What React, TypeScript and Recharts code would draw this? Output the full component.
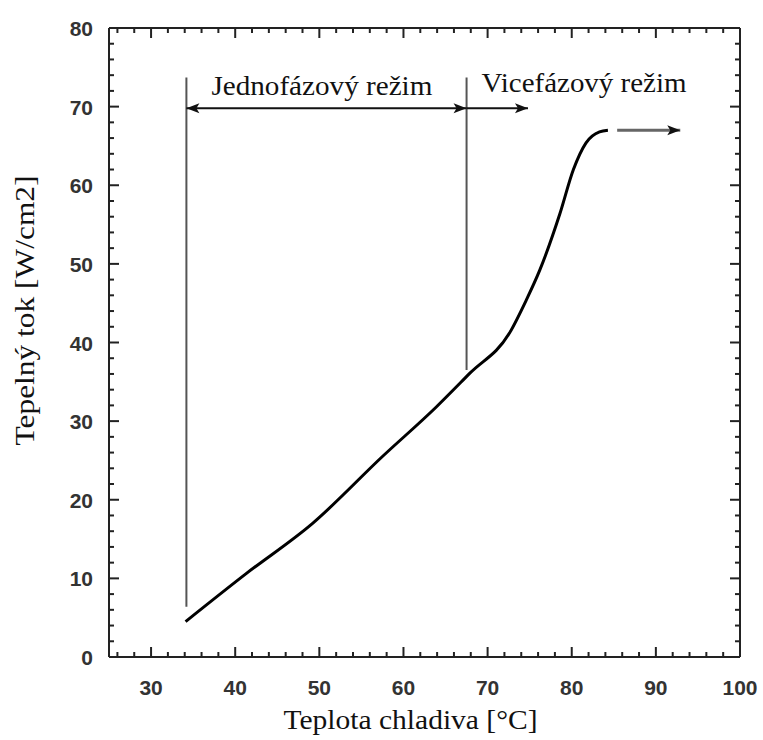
import { ComposedChart, Line, Scatter, XAxis, YAxis, ReferenceLine, Label } from "recharts"

// measured curve: coolant temperature [°C] vs heat flux [W/cm2]
const temperature = [34.1, 41.3, 49.2, 57.5, 63.9, 67.9, 72.6, 74.6, 76.2, 78.6, 80.2, 81.7, 83.3, 84.3]
const heatFlux = [4.5, 10.6, 17.0, 25.5, 31.8, 36.1, 41.2, 45.4, 49.2, 56.4, 62.0, 65.4, 66.8, 67.0]

const xDomain = [25, 100]
const yDomain = [0, 80]
const xMajorTicks = [30, 40, 50, 60, 70, 80, 90, 100]
const yMajorTicks = [0, 10, 20, 30, 40, 50, 60, 70, 80]
const xTicks = Array.from({ length: 38 }, (_, i) => 26 + i * 2)
const yTicks = Array.from({ length: 41 }, (_, i) => i * 2)

// regime annotations
const boundaryX = [34.2, 67.5]
const boundaryBottom = [6.4, 36.5]
const boundaryTop = 73.7
const regimeArrowY = 69.8
const multiPhaseArrowEnd = 74.8
const plateauArrowX = [85.4, 92.9]
const plateauArrowY = 67

const singleLabel = "Jednofázový režim"
const multiLabel = "Vicefázový režim"

const data = temperature.map((t, i) => ({ t, q: heatFlux[i] }))
const topTickPoints = xTicks.map((v) => ({ t: v, q: yDomain[1], len: isMajorTick(v, xMajorTicks) ? 10 : 5 }))
const rightTickPoints = yTicks.map((v) => ({ t: xDomain[1], q: v, len: isMajorTick(v, yMajorTicks) ? 10 : 5 }))

function isMajorTick(v: number, majors: number[]) {
  return majors.includes(Math.round(v))
}

const serif = "'Liberation Serif', 'Times New Roman', serif"
const sans = "'Liberation Sans', Arial, Helvetica, sans-serif"

const tickLen = (v: number, majors: number[]) => (isMajorTick(v, majors) ? 10 : 5)

const BottomTick = ({ x, y, payload }: any) => {
  const len = tickLen(payload.value, xMajorTicks)
  return (
    <g>
      <line x1={x} y1={y} x2={x} y2={y - len} stroke="#222" strokeWidth={2} />
      {len === 10 && (
        <text x={x} y={y + 38} textAnchor="middle" fontFamily={sans} fontWeight="bold" fontSize={21} fill="#333">
          {payload.value}
        </text>
      )}
    </g>
  )
}

const LeftTick = ({ x, y, payload }: any) => {
  const len = tickLen(payload.value, yMajorTicks)
  return (
    <g>
      <line x1={x} y1={y} x2={x + len} y2={y} stroke="#222" strokeWidth={2} />
      {len === 10 && (
        <text x={x - 16} y={y + 8} textAnchor="end" fontFamily={sans} fontWeight="bold" fontSize={21} fill="#333">
          {payload.value}
        </text>
      )}
    </g>
  )
}

// mirrored ticks on the top and right edges
const TopTickMark = (p: any) => (
  <line x1={p.cx} y1={p.cy} x2={p.cx} y2={p.cy + (p.payload?.len ?? 5)} stroke="#222" strokeWidth={2} />
)
const RightTickMark = (p: any) => (
  <line x1={p.cx} y1={p.cy} x2={p.cx - (p.payload?.len ?? 5)} y2={p.cy} stroke="#222" strokeWidth={2} />
)

const head = (tipX: number, y: number, dir: number, color: string) => (
  <polygon points={`${tipX},${y} ${tipX - dir * 13},${y - 5} ${tipX - dir * 10},${y} ${tipX - dir * 13},${y + 5}`} fill={color} />
)

interface ArrowOpts {
  start?: boolean
  color?: string
  lineColor?: string
  width?: number
  label?: string
  labelDx?: number
  labelDy?: number
  labelLen?: number
}

const arrowShape = (o: ArrowOpts) => (p: any) => {
  const { x1, y1, x2, y2 } = p
  const color = o.color ?? "#111"
  return (
    <g>
      <line x1={x1} y1={y1} x2={x2} y2={y2} stroke={o.lineColor ?? color} strokeWidth={o.width ?? 2} />
      {o.start && head(x1, y1, -1, color)}
      {head(x2, y2, 1, color)}
      {o.label && (
        <text
          x={x1 + (o.labelDx ?? 0)}
          y={y1 + (o.labelDy ?? 0)}
          fontFamily={serif}
          fontSize={27}
          fill="#111"
          textLength={o.labelLen}
          lengthAdjust="spacingAndGlyphs"
        >
          {o.label}
        </text>
      )}
    </g>
  )
}

const XTitle = ({ viewBox }: any) => (
  <text x={viewBox.x + viewBox.width / 2 - 14} y={viewBox.y + 72} textAnchor="middle" fontFamily={serif} fontSize={27} fill="#111" textLength={254} lengthAdjust="spacingAndGlyphs">
    Teplota chladiva [°C]
  </text>
)

const YTitle = ({ viewBox }: any) => {
  const cy = viewBox.y + viewBox.height / 2 - 32
  return (
    <text x={34} y={cy} transform={`rotate(-90, 34, ${cy})`} textAnchor="middle" fontFamily={serif} fontSize={27} fill="#111" textLength={270} lengthAdjust="spacingAndGlyphs">
      Tepelný tok [W/cm2]
    </text>
  )
}

const axisLine = { stroke: "#222", strokeWidth: 2 }

export default function App() {
  return (
    <div style={{ position: "absolute", left: 0, top: 0, background: "#fff" }}>
      <ComposedChart width={763} height={740} data={data} margin={{ top: 27, right: 22, bottom: 0, left: 0 }}>
        <XAxis
          dataKey="t"
          type="number"
          domain={xDomain}
          allowDataOverflow
          ticks={xTicks}
          interval={0}
          height={83}
          tickSize={0}
          tickMargin={0}
          tickLine={false}
          axisLine={axisLine}
          tick={<BottomTick />}
        >
          <Label content={<XTitle />} />
        </XAxis>
        <XAxis
          xAxisId="top"
          dataKey="t"
          orientation="top"
          type="number"
          domain={xDomain}
          allowDataOverflow
          height={1}
          tickLine={false}
          tick={false}
          axisLine={axisLine}
        />
        <YAxis
          dataKey="q"
          type="number"
          domain={yDomain}
          allowDataOverflow
          ticks={yTicks}
          interval={0}
          width={109}
          tickSize={0}
          tickMargin={0}
          tickLine={false}
          axisLine={axisLine}
          tick={<LeftTick />}
        >
          <Label content={<YTitle />} />
        </YAxis>
        <YAxis
          yAxisId="right"
          dataKey="q"
          orientation="right"
          type="number"
          domain={yDomain}
          allowDataOverflow
          width={1}
          tickLine={false}
          tick={false}
          axisLine={axisLine}
        />

        {boundaryX.map((bx, i) => (
          <ReferenceLine
            key={bx}
            segment={[{ x: bx, y: boundaryBottom[i] }, { x: bx, y: boundaryTop }]}
            stroke="#555"
            strokeWidth={2}
          />
        ))}
        <ReferenceLine
          segment={[{ x: boundaryX[0], y: regimeArrowY }, { x: boundaryX[1], y: regimeArrowY }]}
          shape={arrowShape({ start: true, label: singleLabel, labelDx: 25, labelDy: -13, labelLen: 221 })}
        />
        <ReferenceLine
          segment={[{ x: boundaryX[1], y: regimeArrowY }, { x: multiPhaseArrowEnd, y: regimeArrowY }]}
          shape={arrowShape({ label: multiLabel, labelDx: 15, labelDy: -16, labelLen: 205 })}
        />
        <ReferenceLine
          segment={[{ x: plateauArrowX[0], y: plateauArrowY }, { x: plateauArrowX[1], y: plateauArrowY }]}
          shape={arrowShape({ lineColor: "#666", width: 3 })}
        />

        <Scatter data={topTickPoints} dataKey="q" shape={<TopTickMark />} isAnimationActive={false} legendType="none" />
        <Scatter data={rightTickPoints} dataKey="q" shape={<RightTickMark />} isAnimationActive={false} legendType="none" />

        {/* invisible copy so the mirrored top/right axis lines get drawn */}
        <Line
          xAxisId="top"
          yAxisId="right"
          dataKey="q"
          stroke="none"
          dot={false}
          activeDot={false}
          legendType="none"
          isAnimationActive={false}
        />
        <Line
          type="monotone"
          dataKey="q"
          stroke="#000"
          strokeWidth={3}
          dot={false}
          activeDot={false}
          isAnimationActive={false}
        />
      </ComposedChart>
    </div>
  )
}
